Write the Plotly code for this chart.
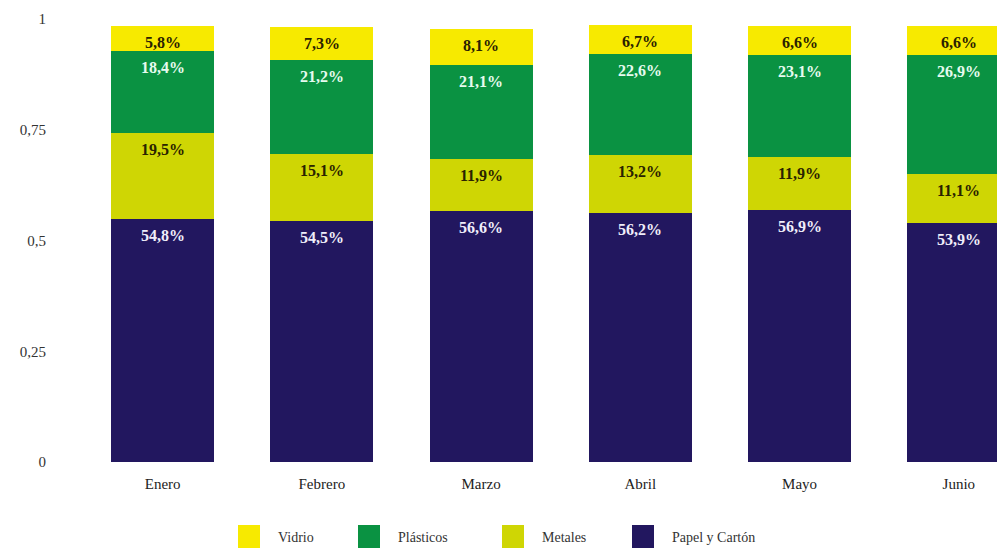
import plotly.graph_objects as go

meses = ["Enero", "Febrero", "Marzo", "Abril", "Mayo", "Junio"]
papel = [54.8, 54.5, 56.6, 56.2, 56.9, 53.9]
metales = [19.5, 15.1, 11.9, 13.2, 11.9, 11.1]
plasticos = [18.4, 21.2, 21.1, 22.6, 23.1, 26.9]
vidrio = [5.8, 7.3, 8.1, 6.7, 6.6, 6.6]

y_ticks = [0, 0.25, 0.5, 0.75, 1]
y_tick_text = ["0", "0,25", "0,5", "0,75", "1"]

series = [
    ("Papel y Cartón", papel, "#22175f", "#f0eefa"),
    ("Metales", metales, "#cfd604", "#2a2200"),
    ("Plásticos", plasticos, "#0a9242", "#e6fbef"),
    ("Vidrio", vidrio, "#f7ea00", "#2a2200"),
]

FONT = "Liberation Serif"

# Page offset of the plot div (default body margin) and plot area in figure px
OFF = 8
W, H = 997, 543
PL, PT, PB = 75, 11, 89
PW = W - PL
PH = H - PT - PB


def px_to_paper_x(page_x):
    return (page_x - OFF - PL) / PW


def px_to_paper_y(page_y):
    return ((H - PB) - (page_y - OFF)) / PH


fig = go.Figure()
cum = [0.0] * len(meses)
annotations = []
for name, vals, color, tcolor in series:
    fig.add_trace(go.Bar(
        name=name,
        x=meses,
        y=[v / 100 for v in vals],
        marker=dict(color=color, line=dict(width=0)),
        hoverinfo="skip",
        showlegend=False,
    ))
    for i, v in enumerate(vals):
        cum[i] += v
        annotations.append(dict(
            x=meses[i], y=cum[i] / 100, xref="x", yref="y",
            text=f"{v:.1f}%".replace(".", ","),
            showarrow=False, yanchor="top", xanchor="center", yshift=-6,
            font=dict(family=FONT, size=16, color=tcolor, weight="bold"),
        ))

# Custom legend (larger swatches as in reference)
legend_order = [series[3], series[2], series[1], series[0]]
legend_left_px = [238, 358, 502, 632]
shapes = []
for (name, _, color, _), lx in zip(legend_order, legend_left_px):
    shapes.append(dict(
        type="rect", xref="paper", yref="paper",
        x0=px_to_paper_x(lx), x1=px_to_paper_x(lx + 22),
        y0=px_to_paper_y(548), y1=px_to_paper_y(525),
        fillcolor=color, line=dict(width=0),
    ))
    annotations.append(dict(
        x=px_to_paper_x(lx + 38), y=px_to_paper_y(537),
        xref="paper", yref="paper", text=name, showarrow=False,
        xanchor="left", yanchor="middle",
        font=dict(family=FONT, size=14, color="#333"),
    ))

fig.update_layout(
    barmode="stack",
    bargap=0.353,
    width=W,
    height=H,
    margin=dict(l=PL, r=0, t=PT, b=PB),
    paper_bgcolor="white",
    plot_bgcolor="white",
    font=dict(family=FONT, size=15, color="#222"),
    showlegend=False,
    annotations=annotations,
    shapes=shapes,
    xaxis=dict(
        type="category",
        range=[-0.5, 5.29],
        showgrid=False,
        showline=False,
        zeroline=False,
        ticks="",
        ticklabelstandoff=11,
        tickfont=dict(family=FONT, size=15, color="#222"),
    ),
    yaxis=dict(
        range=[0, 1],
        tickvals=y_ticks,
        ticktext=y_tick_text,
        showgrid=False,
        zeroline=False,
        showline=False,
        ticks="",
        ticklabelstandoff=36,
        tickfont=dict(family=FONT, size=15, color="#333"),
    ),
)

fig.write_html("out.html")
